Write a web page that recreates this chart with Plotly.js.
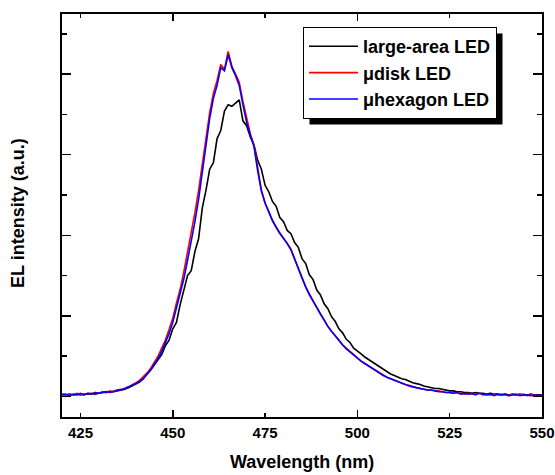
<!DOCTYPE html>
<html>
<head>
<meta charset="utf-8">
<script src="https://cdn.plot.ly/plotly-3.0.1.min.js"></script>
<style>html,body{margin:0;padding:0;background:#fff;}#chart{width:555px;height:475px;}</style>
</head>
<body>
<div id="chart"></div>
<script>
// Wavelength (nm), 1 nm steps 420..550
const wavelength = [];
for (let w = 420; w <= 550; w++) wavelength.push(w);

const seriesNames = ["large-area LED", "\u03bcdisk LED", "\u03bchexagon LED"];
const seriesColors = ["#000000", "#ff0000", "#0000ff"];

const largeArea = [
0.03,0.02,0.03,0.02,0.03,0.02,0.03,0.03,0.04,0.03,
0.04,0.05,0.05,0.06,0.06,0.07,0.08,0.09,0.11,0.13,
0.15,0.18,0.22,0.27,0.33,0.39,0.46,0.52,0.63,0.70,
0.84,0.92,1.14,1.32,1.50,1.56,1.80,1.96,2.34,2.56,
2.82,2.90,3.20,3.30,3.54,3.62,3.60,3.64,3.68,3.42,
3.36,3.22,3.12,2.93,2.82,2.62,2.54,2.42,2.36,2.22,
2.17,2.06,2.02,1.91,1.85,1.71,1.65,1.51,1.45,1.32,
1.26,1.15,1.09,0.99,0.93,0.84,0.79,0.71,0.67,0.60,
0.57,0.53,0.49,0.46,0.42,0.39,0.36,0.33,0.31,0.28,
0.26,0.24,0.22,0.21,0.19,0.17,0.16,0.15,0.13,0.12,
0.11,0.10,0.10,0.09,0.08,0.07,0.07,0.06,0.06,0.05,
0.05,0.04,0.05,0.04,0.04,0.03,0.04,0.03,0.03,0.02,
0.03,0.02,0.03,0.02,0.03,0.02,0.02,0.03,0.02,0.02,
0.02];

const microDisk = [
0.03,0.01,0.03,0.02,0.04,0.03,0.02,0.04,0.03,0.05,
0.04,0.06,0.05,0.07,0.06,0.08,0.09,0.10,0.12,0.14,
0.17,0.20,0.24,0.29,0.35,0.42,0.50,0.60,0.70,0.83,
0.97,1.16,1.33,1.55,1.78,2.02,2.28,2.56,2.88,3.20,
3.52,3.76,3.92,4.12,4.06,4.28,4.10,4.00,3.90,3.66,
3.44,3.26,3.12,2.82,2.56,2.40,2.29,2.19,2.10,2.03,
1.96,1.90,1.83,1.71,1.58,1.47,1.36,1.27,1.18,1.10,
1.02,0.95,0.87,0.81,0.76,0.70,0.64,0.60,0.55,0.51,
0.48,0.44,0.41,0.38,0.35,0.32,0.29,0.27,0.24,0.22,
0.20,0.18,0.17,0.15,0.14,0.12,0.11,0.10,0.09,0.08,
0.08,0.07,0.07,0.06,0.05,0.05,0.04,0.05,0.04,0.03,
0.04,0.03,0.03,0.04,0.02,0.03,0.02,0.03,0.02,0.03,
0.02,0.01,0.03,0.02,0.02,0.03,0.01,0.02,0.02,0.01,
0.02];

const microHexagon = [
0.02,0.03,0.01,0.03,0.02,0.04,0.02,0.04,0.03,0.05,
0.04,0.05,0.06,0.05,0.07,0.08,0.08,0.10,0.12,0.13,
0.16,0.19,0.22,0.28,0.33,0.40,0.47,0.56,0.66,0.78,
0.92,1.10,1.26,1.46,1.69,1.92,2.17,2.45,2.78,3.12,
3.45,3.70,3.86,4.08,4.04,4.24,4.08,3.98,3.86,3.62,
3.40,3.24,3.10,2.80,2.55,2.40,2.28,2.18,2.10,2.02,
1.96,1.90,1.82,1.70,1.58,1.46,1.36,1.26,1.18,1.10,
1.02,0.94,0.87,0.81,0.75,0.70,0.64,0.59,0.55,0.51,
0.47,0.44,0.41,0.38,0.35,0.31,0.29,0.26,0.24,0.22,
0.20,0.18,0.17,0.15,0.13,0.12,0.11,0.10,0.09,0.08,
0.08,0.07,0.06,0.06,0.05,0.05,0.04,0.05,0.03,0.04,
0.03,0.04,0.02,0.04,0.03,0.02,0.03,0.01,0.03,0.02,
0.03,0.01,0.02,0.03,0.01,0.02,0.02,0.01,0.02,0.01,
0.02];

const xTickVals = [425, 450, 475, 500, 525, 550];
const xTickText = ["425", "450", "475", "500", "525", "550"];
const xLongTickVals = [450, 500];

const seriesData = [largeArea, microDisk, microHexagon];
const traces = seriesData.map((vals, i) => ({
  x: wavelength, y: vals, type: "scatter", mode: "lines",
  name: seriesNames[i],
  line: {color: seriesColors[i], width: 1.6}
}));
traces.push({x: [], y: [], xaxis: "x2", yaxis: "y", showlegend: false, hoverinfo: "skip"});

const F = "Arial, 'Liberation Sans', sans-serif";
const L = 62, R = 13, T = 14, B = 58, W = 555, H = 475;
const pw = W - L - R, ph = H - T - B;
const px = v => (v - L) / pw;
const py = v => (H - B - v) / ph;

const layout = {
  width: W, height: H,
  margin: {l: L, r: R, t: T, b: B, pad: 0},
  paper_bgcolor: "#fff", plot_bgcolor: "#fff",
  showlegend: true,
  xaxis: {
    range: [420, 550], tickvals: xTickVals, ticktext: xTickText,
    ticks: "inside", ticklen: 4, tickwidth: 1.5, tickcolor: "#000",
    showline: true, linecolor: "#000", linewidth: 2, mirror: "ticks",
    showgrid: false, zeroline: false, ticklabelstandoff: 1,
    tickfont: {family: F, size: 15, color: "#000", weight: "bold"}
  },
  xaxis2: {
    overlaying: "x", anchor: "y", side: "bottom",
    range: [420, 550], tickvals: xLongTickVals,
    ticks: "inside", ticklen: 7, tickwidth: 1.5, tickcolor: "#000",
    showticklabels: false, showline: false, showgrid: false, zeroline: false,
    mirror: "ticks"
  },
  yaxis: {
    range: [-0.254, 4.745], tick0: 0, dtick: 1,
    ticks: "inside", ticklen: 9, tickwidth: 1.5, tickcolor: "#000",
    showticklabels: false,
    minor: {dtick: 0.5, tick0: 0, ticks: "inside", ticklen: 5, tickwidth: 1.5, tickcolor: "#000", showgrid: false},
    showline: true, linecolor: "#000", linewidth: 2, mirror: "ticks",
    showgrid: false, zeroline: false
  },
  legend: {
    x: px(303), y: py(27), xanchor: "left", yanchor: "top",
    bgcolor: "#fff", bordercolor: "#000", borderwidth: 1,
    font: {family: F, size: 18, color: "#000", weight: "bold"},
    itemwidth: 49, tracegroupgap: 0
  },
  shapes: [],
  annotations: [
    {text: "Wavelength (nm)", xref: "paper", yref: "paper", x: 0.5, y: py(462),
     xanchor: "center", yanchor: "middle", showarrow: false,
     font: {family: F, size: 18, color: "#000", weight: "bold"}},
    {text: "EL intensity (a.u.)", xref: "paper", yref: "paper", x: px(18), y: py(213),
     xanchor: "center", yanchor: "middle", showarrow: false, textangle: -90,
     font: {family: F, size: 18, color: "#000", weight: "bold"}}
  ]
};

const gd = document.getElementById("chart");
Plotly.newPlot(gd, traces, layout, {displayModeBar: false, staticPlot: true}).then(() => {
  // drop shadow behind the legend box, offset 6px right/down
  const bg = gd.querySelector(".legend .bg");
  if (!bg) return;
  const r = bg.getBoundingClientRect();
  const g = gd.getBoundingClientRect();
  const x0 = r.left - g.left + 6, x1 = r.right - g.left + 6;
  const y0 = r.top - g.top + 6, y1 = r.bottom - g.top + 6;
  return Plotly.relayout(gd, {shapes: [{
    type: "rect", xref: "paper", yref: "paper", layer: "above",
    x0: px(x0), x1: px(x1), y0: py(y1), y1: py(y0),
    fillcolor: "#000", line: {width: 0}
  }]});
});
</script>
</body>
</html>
